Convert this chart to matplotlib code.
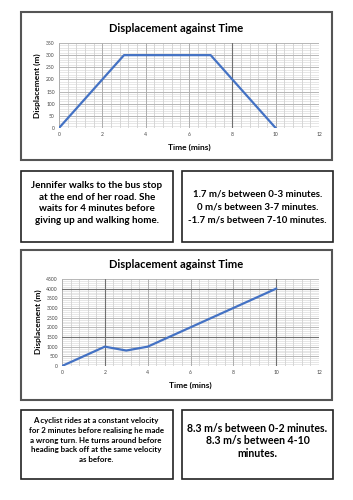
import matplotlib
matplotlib.use("Agg")
import matplotlib.pyplot as plt
from matplotlib.patches import Rectangle
import numpy as np

# ---- data ----
time1 = [0, 3, 7, 10]
disp1 = [0, 300, 300, 0]
yticks1 = [0, 50, 100, 150, 200, 250, 300, 350]

time2 = [0, 2, 3, 4, 10]
disp2 = [0, 1000, 800, 1000, 4000]
yticks2 = [0, 500, 1000, 1500, 2000, 2500, 3000, 3500, 4000, 4500]

xticks = [0, 2, 4, 6, 8, 10, 12]
title = "Displacement against Time"
xlabel = "Time (mins)"
ylabel = "Displacement (m)"

story1 = ("Jennifer walks to the bus stop\nat the end of her road. She\n"
          "waits for 4 minutes before\ngiving up and walking home.")
answer1 = ("1.7 m/s between 0-3 minutes.\n0 m/s between 3-7 minutes.\n"
           "-1.7 m/s between 7-10 minutes.")
story2 = ("A cyclist rides at a constant velocity\nfor 2 minutes before realising he made\n"
          "a wrong turn. He turns around before\nheading back off at the same velocity\nas before.")
answer2 = "8.3 m/s between 0-2 minutes.\n8.3 m/s between 4-10\nminutes."

W, H = 353, 500
plt.rcParams['font.family'] = ['Lato', 'DejaVu Sans']
fig = plt.figure(figsize=(W / 100, H / 100), dpi=100)
fig.patch.set_facecolor('white')

def fx(x): return x / W
def fy(y): return 1 - y / H

def box(x0, y0, x1, y1, lw=1.2, ec='#222222'):
    r = Rectangle((fx(x0), fy(y1)), fx(x1) - fx(x0), fy(y0) - fy(y1),
                  transform=fig.transFigure, fill=False, ec=ec, lw=lw)
    fig.patches.append(r)

def chart(ax_rect, t, d, yticks, ymax, ystep_minor, dark_y, dark_x):
    ax = fig.add_axes(ax_rect)
    ax.set_xlim(0, 12)
    ax.set_ylim(0, ymax)
    for xv in np.arange(0, 12.01, 0.4):
        ax.axvline(xv, color='#c8c8c8', lw=0.5, zorder=0)
    for yv in np.arange(0, ymax + 0.1, ystep_minor):
        ax.axhline(yv, color='#d4d4d4', lw=0.4, zorder=0)
    for xv in xticks:
        ax.axvline(xv, color='#a8a8a8', lw=0.6, zorder=0)
    for yv in yticks:
        ax.axhline(yv, color='#b0b0b0', lw=0.6, zorder=0)
    for xv in dark_x:
        ax.axvline(xv, color='#707070', lw=0.8, zorder=0)
    for yv in dark_y:
        ax.axhline(yv, color='#707070', lw=0.8, zorder=0)
    ax.plot(t, d, color='#4472c4', lw=1.6, zorder=3)
    ax.set_xticks(xticks)
    ax.set_yticks(yticks)
    ax.tick_params(labelsize=3.6, length=0, pad=3, colors='#444444')
    for s in ax.spines.values():
        s.set_visible(False)
    ax.set_facecolor('white')
    return ax

# ---- top chart ----
box(21, 12, 332, 160, lw=1.5, ec='#555555')
ax1 = chart([fx(59), fy(128), fx(319) - fx(59), fy(43) - fy(128)],
            time1, disp1, yticks1, 350, 10, [], [8])
fig.text(fx(176), fy(29), title, ha='center', va='center', fontsize=8, fontweight='bold')
fig.text(fx(189), fy(147), xlabel, ha='center', va='center', fontsize=6, fontweight='bold')
fig.text(fx(37), fy(86), ylabel, ha='center', va='center', rotation=90, fontsize=6, fontweight='bold')

# ---- text boxes row 1 ----
box(21, 171, 173, 242)
box(182, 171, 333, 242)
fig.text(fx(97), fy(203), story1, ha='center', va='center', fontsize=7.1,
         fontweight='bold', linespacing=1.38)
fig.text(fx(257.5), fy(207), answer1, ha='center', va='center', fontsize=6.9,
         fontweight='bold', linespacing=1.55)

# ---- second chart ----
box(21, 250, 332, 400, lw=1.5, ec='#555555')
ax2 = chart([fx(62), fy(366), fx(319) - fx(62), fy(279) - fy(366)],
            time2, disp2, yticks2, 4500, 100, [1500, 4000], [2, 10])
fig.text(fx(176), fy(265), title, ha='center', va='center', fontsize=8, fontweight='bold')
fig.text(fx(190), fy(385), xlabel, ha='center', va='center', fontsize=6, fontweight='bold')
fig.text(fx(38), fy(322), ylabel, ha='center', va='center', rotation=90, fontsize=6, fontweight='bold')

# ---- text boxes row 2 ----
box(21, 410, 173, 479)
box(182, 410, 333, 479)
fig.text(fx(96), fy(440), story2, ha='center', va='center', fontsize=5.7,
         fontweight='bold', linespacing=1.48)
fig.text(fx(257.5), fy(441), answer2, ha='center', va='center', fontsize=7.6,
         fontweight='bold', linespacing=1.12)

fig.savefig("out.png", dpi=100, facecolor='white')
